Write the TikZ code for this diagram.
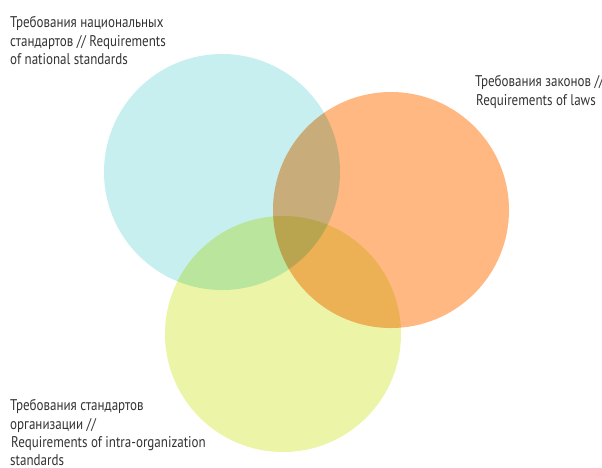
\documentclass[tikz,border=0pt]{standalone}
\usepackage{fontspec}
\setmainfont[FakeStretch=0.84]{PT Sans}
\definecolor{cCyan}{RGB}{200,239,239}
\definecolor{cOrange}{RGB}{255,184,130}
\definecolor{cYellow}{RGB}{236,245,167}
\definecolor{cText}{RGB}{51,51,51}
\tikzset{
  venn/.style={circle, inner sep=0pt, minimum size=236pt, draw=none},
  lbl/.style={anchor=north west, align=left, inner sep=0pt, text=cText,
    font={\fontsize{15.5}{18.3}\selectfont}}
}
\begin{document}
\begin{tikzpicture}[x=1pt,y=-1pt]
\useasboundingbox (0,0) rectangle (602,467);
\begin{scope}[blend group=multiply]
  \node[venn, fill=cCyan] (nat) at (222,172) {};
  \node[venn, fill=cOrange] (law) at (391,210) {};
  \node[venn, fill=cYellow] (org) at (283,334) {};
\end{scope}
\node[lbl] (tnat) at (10,16.5) {Требования национальных\\стандартов // Requirements\\of national standards};
\node[lbl] (tlaw) at (475,75.5) {Требования законов //\\\kern1pt Requirements of laws};
\node[lbl] (torg) at (10,399.5) {Требования стандартов\\организации //\\\kern1pt Requirements of intra-organization\\standards};
\end{tikzpicture}
\end{document}
